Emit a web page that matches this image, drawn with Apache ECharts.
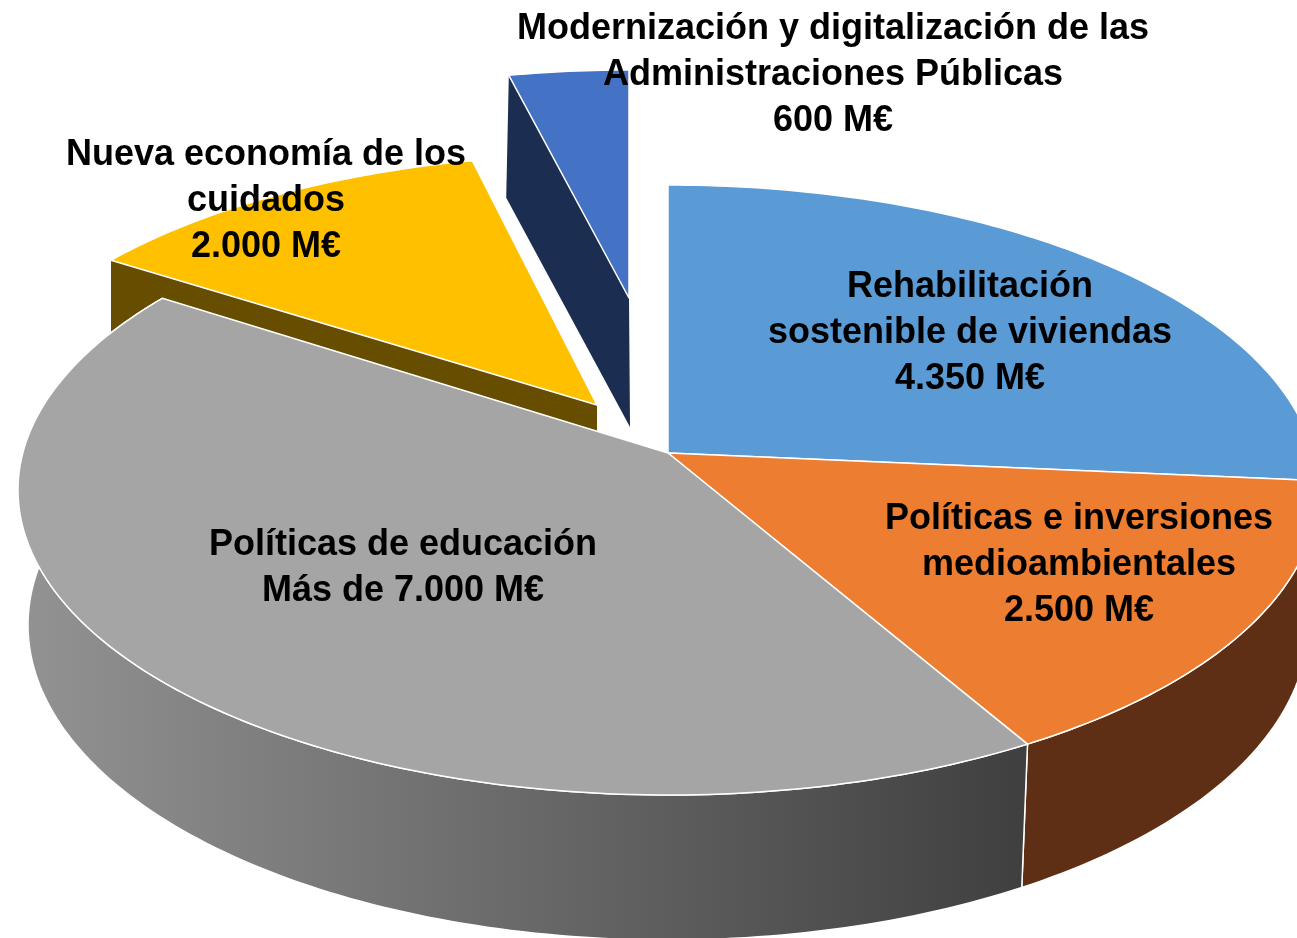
<!DOCTYPE html>
<html><head><meta charset="utf-8">
<style>html,body{margin:0;padding:0;background:#fff}#c{width:1297px;height:938px}</style>
<script src="https://cdn.jsdelivr.net/npm/echarts@6/dist/echarts.min.js"></script>
</head><body><div id="c"></div>
<script>
// DATA
const categories = ["Rehabilitación\nsostenible de viviendas","Políticas e inversiones\nmedioambientales","Políticas de educación","Nueva economía de los\ncuidados","Modernización y digitalización de las\nAdministraciones Públicas"];
const values = [4350, 2500, 7000, 2000, 600];
const valueTexts = ["4.350 M€","2.500 M€","Más de 7.000 M€","2.000 M€","600 M€"];

// STYLE AND LAYOUT
const faceColors = ["#5B9BD5","#ED7D31","#A5A5A5","#FFC000","#4472C4"];
const outerWall = [null,"#5E2F14",{type:'linear',x:0,y:0,x2:1,y2:0,colorStops:[{offset:0,color:'#939393'},{offset:1,color:'#3F3F3F'}]},null,null];
const sideWall = [null,null,null,"#664D00","#1B2E52"];
const order = [3,4,5,2,1];
const shapes = [
 {ax:668,ay:453,cy:490,rx:650,ry:305},
 {ax:668,ay:453,cy:490,rx:650,ry:305},
 {ax:668,ay:453,cy:490,rx:650,ry:305},
 {ax:597,ay:405,cy:442,rx:628,ry:287},
 {ax:629,ay:298,cy:325,rx:590,ry:255}
];
const bottoms = [
 {ax:668,ay:587,cy:625,rx:640,ry:315},
 {ax:668,ay:587,cy:625,rx:640,ry:315},
 {ax:668,ay:587,cy:625,rx:640,ry:315},
 {ax:597,ay:535,cy:572,rx:628,ry:287},
 {ax:630,ay:427,cy:447,rx:590,ry:255}
];
const labelPos = [[970,333],[1079,565],[403,568],[266,201],[833,75]];
const font = 'bold 36px "Liberation Sans", Arial, sans-serif';

const total = values.reduce((a,b)=>a+b,0);
function rimPoint(s,deg){
  const t=deg*Math.PI/180, dx=Math.sin(t)*s.rx, dy=-Math.cos(t)*s.ry;
  const oy=s.ay-s.cy, A=(dx*dx)/(s.rx*s.rx)+(dy*dy)/(s.ry*s.ry), B=2*oy*dy/(s.ry*s.ry), C=(oy*oy)/(s.ry*s.ry)-1;
  const k=(-B+Math.sqrt(B*B-4*A*C))/(2*A);
  return [s.ax+dx*k, s.ay+dy*k];
}
function arc(s,a0,a1){const p=[],n=Math.max(4,Math.ceil(Math.abs(a1-a0)));for(let i=0;i<=n;i++)p.push(rimPoint(s,a0+(a1-a0)*i/n));return p;}

const stroke={stroke:'#fff',lineWidth:1.5,lineJoin:'round'};
const renderItem=(params,api)=>{
  const i=params.dataIndex, v=api.value(0);
  let before=0;for(let j=0;j<i;j++)before+=values[j];
  const a0=before/total*360, a1=(before+v)/total*360;
  const top=shapes[i], bot=bottoms[i], z=order[i]*10, ch=[];
  if(outerWall[i]){
    const pts=arc(top,a0,a1).concat(arc(bot,a0,a1).reverse());
    ch.push({type:'polygon',z2:z,shape:{points:pts},style:Object.assign({fill:outerWall[i]},stroke)});
  }
  if(sideWall[i]){
    const r0=rimPoint(top,a0), r1=rimPoint(bot,a0);
    const pts=[r0,[top.ax,top.ay],[bot.ax,bot.ay],r1];
    ch.push({type:'polygon',z2:z,shape:{points:pts},style:{fill:sideWall[i]}});
  }
  const face=[[top.ax,top.ay]].concat(arc(top,a0,a1));
  ch.push({type:'polygon',z2:z+1,shape:{points:face},style:Object.assign({fill:faceColors[i]},stroke)});
  ch.push({type:'text',z2:1000,x:labelPos[i][0],y:labelPos[i][1],style:{
    text:categories[i]+"\n"+valueTexts[i],font:font,fill:'#000',align:'center',verticalAlign:'middle',lineHeight:46}});
  return {type:'group',children:ch};
};
const chart=echarts.init(document.getElementById('c'),null,{renderer:'canvas'});
chart.setOption({
  backgroundColor:'#fff',animation:false,
  series:[{type:'custom',coordinateSystem:'none',silent:true,clip:false,renderItem,
    data:values.map((v,i)=>({value:[v],name:categories[i]}))}]
});
</script></body></html>
